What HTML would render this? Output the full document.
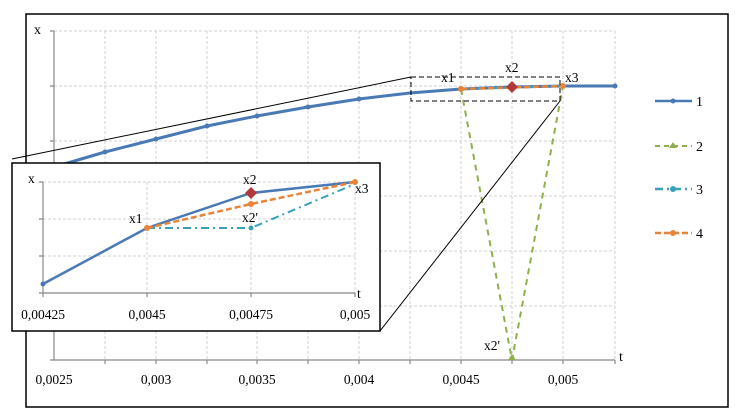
<!DOCTYPE html>
<html><head><style>body{margin:0;background:#fff}svg{display:block;font-family:"Liberation Serif",serif}</style></head><body>
<svg width="739" height="420" viewBox="0 0 739 420" xmlns="http://www.w3.org/2000/svg">
<rect x="26" y="14" width="702" height="393" fill="#fff" stroke="#000" stroke-width="1.5"/>
<g stroke="#d0d0d0" stroke-dasharray="3,2" stroke-width="1">
<line x1="54" y1="31" x2="615" y2="31"/><line x1="54" y1="86" x2="615" y2="86"/><line x1="54" y1="141" x2="615" y2="141"/><line x1="54" y1="196" x2="615" y2="196"/><line x1="54" y1="251" x2="615" y2="251"/><line x1="54" y1="306" x2="615" y2="306"/>
<line x1="105" y1="31" x2="105" y2="360"/><line x1="156" y1="31" x2="156" y2="360"/><line x1="207" y1="31" x2="207" y2="360"/><line x1="257" y1="31" x2="257" y2="360"/><line x1="308" y1="31" x2="308" y2="360"/><line x1="359" y1="31" x2="359" y2="360"/><line x1="410" y1="31" x2="410" y2="360"/><line x1="461" y1="31" x2="461" y2="360"/><line x1="512" y1="31" x2="512" y2="360"/><line x1="563" y1="31" x2="563" y2="360"/><line x1="615" y1="31" x2="615" y2="360"/>
</g>
<g stroke="#888" stroke-width="1.2"><line x1="54" y1="31" x2="54" y2="360"/><line x1="54" y1="360" x2="615" y2="360"/>
<path d="M50 31h4M50 86h4M50 141h4M50 196h4M50 251h4M50 306h4M50 360h4M105 360v4M156 360v4M207 360v4M257 360v4M308 360v4M359 360v4M410 360v4M461 360v4M512 360v4M563 360v4M615 360v4"/></g>
<g font-size="13.5" fill="#000" text-anchor="middle">
<text x="54" y="384">0,0025</text><text x="156" y="384">0,003</text><text x="257" y="384">0,0035</text><text x="359" y="384">0,004</text><text x="461" y="384">0,0045</text><text x="563" y="384">0,005</text>
</g>
<text x="34" y="34" font-size="14">x</text><text x="619" y="361" font-size="14">t</text>
<polyline points="54,167 105,152 156,139 207,126 257,116 308,107 359,99 410,93 461,89 512,87 563,86 615,86" fill="none" stroke="#4a7ab5" stroke-width="3"/>
<g fill="#4a7ab5"><circle cx="105" cy="152" r="2.5"/><circle cx="156" cy="139" r="2.5"/><circle cx="207" cy="126" r="2.5"/><circle cx="257" cy="116" r="2.5"/><circle cx="308" cy="107" r="2.5"/><circle cx="359" cy="99" r="2.5"/><circle cx="615" cy="86" r="2.5"/></g>
<polyline points="461,89 512,360 563,86" fill="none" stroke="#8db04b" stroke-width="2" stroke-dasharray="6,5"/>
<path d="M512 354l4 6h-8z" fill="#8db04b"/>
<polyline points="461,89 563,86" fill="none" stroke="#3aa0b8" stroke-width="2" stroke-dasharray="8,3,2,3"/>
<polyline points="461,89 563,86" fill="none" stroke="#e8843a" stroke-width="2.5" stroke-dasharray="6,3"/>
<circle cx="461" cy="89" r="3" fill="#e8843a"/><circle cx="563" cy="86" r="3" fill="#e8843a"/>
<path d="M512 81l6 6-6 6-6-6z" fill="#b03a3a"/>
<rect x="411" y="77" width="149" height="24" fill="none" stroke="#000" stroke-dasharray="5,3"/>
<line x1="12" y1="159" x2="411" y2="77" stroke="#000"/>
<line x1="380" y1="331" x2="560" y2="101" stroke="#000"/>
<g font-size="13.5"><text x="441" y="82">x1</text><text x="505" y="72">x2</text><text x="565" y="82">x3</text><text x="484" y="350">x2'</text></g>
<rect x="12" y="163" width="368" height="168" fill="#fff" stroke="#000" stroke-width="1.5"/>
<g stroke="#d0d0d0" stroke-dasharray="3,2"><line x1="43" y1="182" x2="355" y2="182"/><line x1="43" y1="219" x2="355" y2="219"/><line x1="43" y1="256" x2="355" y2="256"/><line x1="147" y1="182" x2="147" y2="293"/><line x1="251" y1="182" x2="251" y2="293"/><line x1="355" y1="182" x2="355" y2="293"/></g>
<g stroke="#888" stroke-width="1.2"><line x1="43" y1="182" x2="43" y2="293"/><line x1="43" y1="293" x2="355" y2="293"/><path d="M39 182h4M39 219h4M39 256h4M39 293h4M43 293v4M147 293v4M251 293v4M355 293v4"/></g>
<polyline points="43,284 147,228 251,193 355,182" fill="none" stroke="#4a7ab5" stroke-width="2.5"/>
<circle cx="43" cy="284" r="2.5" fill="#4a7ab5"/>
<polyline points="147,228 251,228 355,184" fill="none" stroke="#3aa0b8" stroke-width="2" stroke-dasharray="8,4,2,4"/>
<polyline points="147,228 251,204 355,182" fill="none" stroke="#e8843a" stroke-width="2.5" stroke-dasharray="6,3"/>
<circle cx="147" cy="228" r="3" fill="#e8843a"/><circle cx="251" cy="204" r="3" fill="#e8843a"/><circle cx="355" cy="182" r="3" fill="#e8843a"/><circle cx="251" cy="228" r="2.5" fill="#3aa0b8"/>
<path d="M251 187l6 6-6 6-6-6z" fill="#b03a3a"/>
<g font-size="13.5"><text x="28" y="183">x</text><text x="357" y="298">t</text><text x="129" y="223">x1</text><text x="243" y="184">x2</text><text x="242" y="222">x2'</text><text x="355" y="193">x3</text>
<g text-anchor="middle"><text x="43" y="319">0,00425</text><text x="147" y="319">0,0045</text><text x="251" y="319">0,00475</text><text x="355" y="319">0,005</text></g></g>
<g stroke-width="2.5"><line x1="655" y1="101" x2="692" y2="101" stroke="#4a7ab5"/><line x1="655" y1="146" x2="692" y2="146" stroke="#8db04b" stroke-dasharray="5,4" stroke-width="2"/><line x1="655" y1="189" x2="692" y2="189" stroke="#3aa0b8" stroke-dasharray="8,4,2,4"/><line x1="655" y1="233" x2="692" y2="233" stroke="#e8843a" stroke-dasharray="6,3"/></g>
<circle cx="673" cy="101" r="2.5" fill="#4a7ab5"/><path d="M673 142l4 6h-8z" fill="#8db04b"/><circle cx="673" cy="189" r="3" fill="#3aa0b8"/><circle cx="673" cy="233" r="3" fill="#e8843a"/>
<g font-size="14"><text x="696" y="106">1</text><text x="696" y="151">2</text><text x="696" y="194">3</text><text x="696" y="238">4</text></g>
</svg>
</body></html>
